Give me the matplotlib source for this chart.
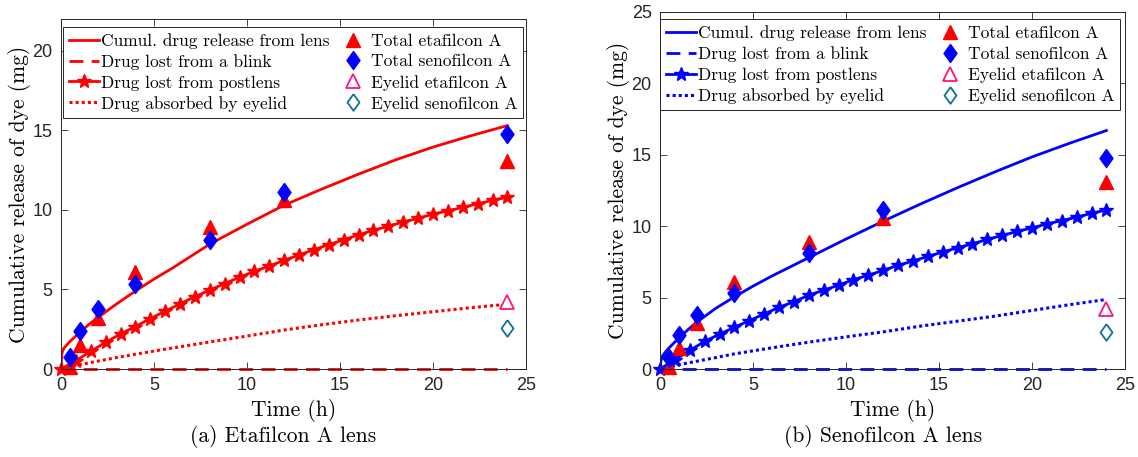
import matplotlib
matplotlib.use("Agg")
import matplotlib.pyplot as plt
import numpy as np

# measured data (same in both panels)
t_data = [0.5, 1, 2, 4, 8, 12, 24]
total_eta = [0.15, 1.5, 3.2, 6.1, 8.9, 10.6, 13.1]
total_seno = [0.75, 2.4, 3.8, 5.35, 8.1, 11.1, 14.8]
t_eyelid = [24]
eyelid_eta = [4.2]
eyelid_seno = [2.6]

# model curves
t_model = [0, 0.05, 0.15, 0.3, 0.5, 1, 1.5, 2, 3, 4, 5, 6, 8, 10, 12, 14, 16, 18, 20, 22, 24]
cumul_eta = [0, 1.0, 1.3, 1.5, 1.75, 2.3, 2.8, 3.25, 4.1, 4.9, 5.65, 6.35, 7.85, 9.1, 10.3, 11.3, 12.25, 13.15, 13.95, 14.65, 15.3]
cumul_seno = [0, 0.6, 0.95, 1.2, 1.5, 2.15, 2.75, 3.3, 4.25, 5.05, 5.8, 6.5, 7.8, 9.1, 10.35, 11.55, 12.7, 13.8, 14.85, 15.8, 16.7]

t_eyelid_model = [0, 0.5, 1, 2, 3, 4, 5, 6, 8, 10, 12, 14, 16, 18, 20, 22, 24]
absorbed_eta = [0, 0.12, 0.27, 0.5, 0.72, 0.93, 1.13, 1.32, 1.7, 2.07, 2.45, 2.78, 3.08, 3.35, 3.6, 3.85, 4.07]
absorbed_seno = [0, 0.12, 0.3, 0.55, 0.8, 1.06, 1.27, 1.48, 1.88, 2.25, 2.6, 3.0, 3.35, 3.7, 4.1, 4.5, 4.87]

t_blink = [0, 24]
blink = [0, 0]

t_post = [0, 0.8, 1.6, 2.4, 3.2, 4.0, 4.8, 5.6, 6.4, 7.2, 8.0, 8.8, 9.6, 10.4, 11.2, 12.0,
          12.8, 13.6, 14.4, 15.2, 16.0, 16.8, 17.6, 18.4, 19.2, 20.0, 20.8, 21.6, 22.4, 23.2, 24.0]
post_eta = [0, 0.52, 1.11, 1.68, 2.2, 2.67, 3.17, 3.63, 4.1, 4.55, 4.96, 5.37, 5.77, 6.14, 6.48, 6.83,
            7.17, 7.5, 7.82, 8.13, 8.43, 8.72, 8.98, 9.24, 9.48, 9.73, 9.95, 10.16, 10.38, 10.6, 10.8]
post_seno = [0, 0.65, 1.3, 1.93, 2.44, 2.92, 3.39, 3.85, 4.32, 4.71, 5.17, 5.52, 5.87, 6.26, 6.57, 6.91,
             7.26, 7.56, 7.89, 8.19, 8.49, 8.77, 9.07, 9.35, 9.63, 9.88, 10.16, 10.39, 10.63, 10.9, 11.14]

serif = 'cmr10'
tickfont = 'Liberation Sans'
axcol = '#262626'
pink = '#FF1478'
teal = '#13709A'
# MATLAB-like diamond (a bit narrower than tall)
diamond = [(0, 1), (0.72, 0), (0, -1), (-0.72, 0), (0, 1)]

fig = plt.figure(figsize=(11.38, 4.57), dpi=100)
ax1 = fig.add_axes([61/1138, 88/457, 465/1138, 350/457])
ax2 = fig.add_axes([660/1138, 88/457, 465/1138, 357/457])


def panel(ax, col, cumul, absorbed, post, ymax, anchor):
    ax.plot(t_model, cumul, '-', color=col, lw=2, label='Cumul. drug release from lens')
    ax.plot(t_blink, blink, '--', color=col, lw=2, dashes=(5, 3), clip_on=False,
            label='Drug lost from a blink')
    ax.plot(t_post, post, '-', color=col, lw=2, marker='*', markersize=10.5, clip_on=False,
            label='Drug lost from postlens')
    ax.plot(t_eyelid_model, absorbed, ':', color=col, lw=2.2, dashes=(1, 1), label='Drug absorbed by eyelid')
    ax.plot(t_data, total_eta, '^', color='red', markersize=10, ls='none', clip_on=False,
            label='Total etafilcon A')
    ax.plot(t_data, total_seno, marker=diamond, color='blue', markersize=13, ls='none', clip_on=False,
            label='Total senofilcon A')
    ax.plot(t_eyelid, eyelid_eta, '^', mfc='white', mec=pink, mew=1.3, markersize=10, ls='none',
            label='Eyelid etafilcon A')
    ax.plot(t_eyelid, eyelid_seno, marker=diamond, mfc='white', mec=teal, mew=1.3, markersize=12,
            ls='none', label='Eyelid senofilcon A')

    ax.set_xlim(0, 25)
    ax.set_ylim(0, ymax)
    ax.set_xticks([0, 5, 10, 15, 20, 25])
    ax.set_yticks(range(0, int(ymax) + 1, 5))
    ax.tick_params(direction='in', top=True, right=True, length=5, width=0.6, colors=axcol,
                   labelsize=13, pad=6)
    for lab in ax.get_xticklabels() + ax.get_yticklabels():
        lab.set_fontfamily(tickfont)
    for sp in ax.spines.values():
        sp.set_color(axcol)
        sp.set_linewidth(0.7)
    ax.set_xlabel('Time (h)', fontfamily=serif, fontsize=15.5, labelpad=3)
    ax.set_ylabel('Cumulative release of dye (mg)', fontfamily=serif, fontsize=15.5, labelpad=1)
    leg = ax.legend(loc='upper right', bbox_to_anchor=anchor, ncol=2, fancybox=False,
                    edgecolor=axcol, framealpha=1, borderpad=0.35, labelspacing=0.3,
                    handlelength=1.7, handletextpad=0.15, columnspacing=0.5, borderaxespad=0,
                    prop={'family': serif, 'size': 12.5})
    leg.get_frame().set_linewidth(0.7)
    leg.set_zorder(5)


panel(ax1, 'red', cumul_eta, absorbed_eta, post_eta, 22, (0.994, 0.977))
panel(ax2, 'blue', cumul_seno, absorbed_seno, post_seno, 25, (0.99, 0.98))

fig.text(283/1138, 1 - 437/457, '(a) Etafilcon A lens', ha='center', va='center',
         fontfamily=serif, fontsize=15.5)
fig.text(883/1138, 1 - 437/457, '(b) Senofilcon A lens', ha='center', va='center',
         fontfamily=serif, fontsize=15.5)

fig.savefig('out.png', dpi=100)
